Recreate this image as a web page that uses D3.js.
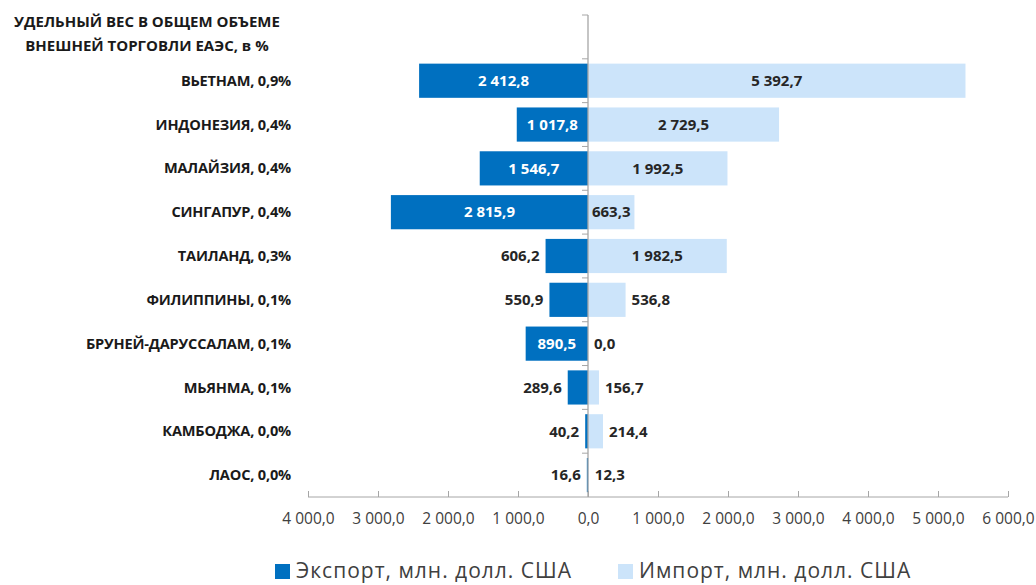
<!DOCTYPE html>
<html><head><meta charset="utf-8">
<script src="https://cdn.jsdelivr.net/npm/d3@7"></script>
<style>
body{margin:0;background:#fff;}
svg{display:block;}
</style></head>
<body>
<svg id="c" width="1036" height="585"></svg>
<script>
const header = "УДЕЛЬНЫЙ ВЕС В ОБЩЕМ ОБЪЕМЕ|ВНЕШНЕЙ ТОРГОВЛИ ЕАЭС, в %";
const categories = ["ВЬЕТНАМ, 0,9%","ИНДОНЕЗИЯ, 0,4%","МАЛАЙЗИЯ, 0,4%","СИНГАПУР, 0,4%","ТАИЛАНД, 0,3%","ФИЛИППИНЫ, 0,1%","БРУНЕЙ-ДАРУССАЛАМ, 0,1%","МЬЯНМА, 0,1%","КАМБОДЖА, 0,0%","ЛАОС, 0,0%"];
const exportVals = [2412.8,1017.8,1546.7,2815.9,606.2,550.9,890.5,289.6,40.2,16.6];
const importVals = [5392.7,2729.5,1992.5,663.3,1982.5,536.8,0.0,156.7,214.4,12.3];
const xTicks = [-4000,-3000,-2000,-1000,0,1000,2000,3000,4000,5000,6000];
const seriesNames = ["Экспорт, млн. долл. США","Импорт, млн. долл. США"];

const C_EXP = "#0070C0", C_IMP = "#CCE4FA";
const FONT = "'Liberation Sans Narrow','Open Sans',sans-serif";
const BFONT = "'Open Sans','Noto Sans',sans-serif";

const svg = d3.select("#c");
const x = d3.scaleLinear().domain([-4000,6000]).range([308,1008]);
const rows = ["__header__", ...categories];
const y = d3.scaleBand().domain(rows).range([15,497]).paddingInner(0.22).paddingOuter(0.11);
const step = y.step();
const fmt = v => {
  const s = d3.format(",.1f")(Math.abs(v));
  return s.replace(/,/g," ").replace(".",",");
};

// bars
const data = categories.map((c,i)=>({c, e:exportVals[i], m:importVals[i]}));
svg.append("g").selectAll("rect").data(data).join("rect")
  .attr("x", d=>x(-d.e)).attr("width", d=>x(0)-x(-d.e))
  .attr("y", d=>y(d.c)).attr("height", y.bandwidth()).attr("fill", C_EXP);
svg.append("g").selectAll("rect").data(data).join("rect")
  .attr("x", x(0)).attr("width", d=>x(d.m)-x(0))
  .attr("y", d=>y(d.c)).attr("height", y.bandwidth()).attr("fill", C_IMP);

// x axis
const xAxis = d3.axisBottom(x).tickValues(xTicks).tickSize(6).tickFormat(v=>fmt(v));
const gx = svg.append("g").attr("transform","translate(0,497)").call(xAxis);
gx.select(".domain").attr("stroke","#a6a6a6").attr("d","M308,0H1008");
gx.selectAll(".tick line").attr("stroke","#a6a6a6").attr("y1",0).attr("y2",-6);
gx.selectAll(".tick text").attr("fill","#404040").attr("font-family",BFONT).attr("font-size","15.5px").attr("y",16).attr("dy","0.71em");

// y axis at zero
const gy = svg.append("g");
gy.append("line").attr("x1",x(0)).attr("x2",x(0)).attr("y1",15).attr("y2",497).attr("stroke","#a6a6a6").attr("stroke-width",1.3);
const bounds = d3.range(rows.length).map(i=>15+i*step);
gy.selectAll("line.t").data(bounds).join("line").attr("class","t")
  .attr("x1",x(0)-6).attr("x2",x(0)).attr("y1",d=>d).attr("y2",d=>d).attr("stroke","#a6a6a6");

// category labels
svg.append("g").selectAll("text").data(categories).join("text")
  .attr("x",291).attr("y",d=>y(d)+y.bandwidth()/2).attr("dy","0.35em")
  .attr("text-anchor","end").attr("font-family",BFONT).attr("font-weight","bold")
  .attr("font-size","14.6px").attr("letter-spacing","-0.2px").attr("fill","#1a1a1a").text(d=>d);
svg.append("g").selectAll("text").data(header.split("|")).join("text")
  .attr("x",147).attr("y",(d,i)=>22+i*24).attr("dy","0.35em").attr("text-anchor","middle")
  .attr("font-family",BFONT).attr("font-weight","bold").attr("font-size","15px").attr("letter-spacing","0px")
  .attr("fill","#1a1a1a").text(d=>d);

// data labels
const TH = 45;
const lab = svg.append("g").attr("font-family",BFONT).attr("font-weight","bold").attr("font-size","15px");
data.forEach(d=>{
  const cy = y(d.c)+y.bandwidth()/2;
  const we = x(0)-x(-d.e);
  if (we > TH) {
    lab.append("text").attr("x",(x(0)+x(-d.e))/2).attr("y",cy).attr("dy","0.35em").attr("text-anchor","middle").attr("fill","#fff").text(fmt(d.e));
  } else {
    lab.append("text").attr("x",x(-d.e)-6).attr("y",cy).attr("dy","0.35em").attr("text-anchor","end").attr("fill","#262626").text(fmt(d.e));
  }
  const wm = x(d.m)-x(0);
  if (wm > TH) {
    lab.append("text").attr("x",(x(0)+x(d.m))/2).attr("y",cy).attr("dy","0.35em").attr("text-anchor","middle").attr("fill","#262626").text(fmt(d.m));
  } else {
    lab.append("text").attr("x",x(d.m)+6).attr("y",cy).attr("dy","0.35em").attr("text-anchor","start").attr("fill","#262626").text(fmt(d.m));
  }
});

// legend
const leg = svg.append("g");
const legItems = [{n:seriesNames[0],c:C_EXP,x:275},{n:seriesNames[1],c:C_IMP,x:618}];
legItems.forEach(it=>{
  leg.append("rect").attr("x",it.x).attr("y",564).attr("width",15).attr("height",15).attr("fill",it.c);
  leg.append("text").attr("x",it.x+21).attr("y",571).attr("dy","0.35em").attr("font-family",FONT)
    .attr("font-size","21px").attr("letter-spacing","1px").attr("fill","#404040").text(it.n);
});
</script>
</body></html>
